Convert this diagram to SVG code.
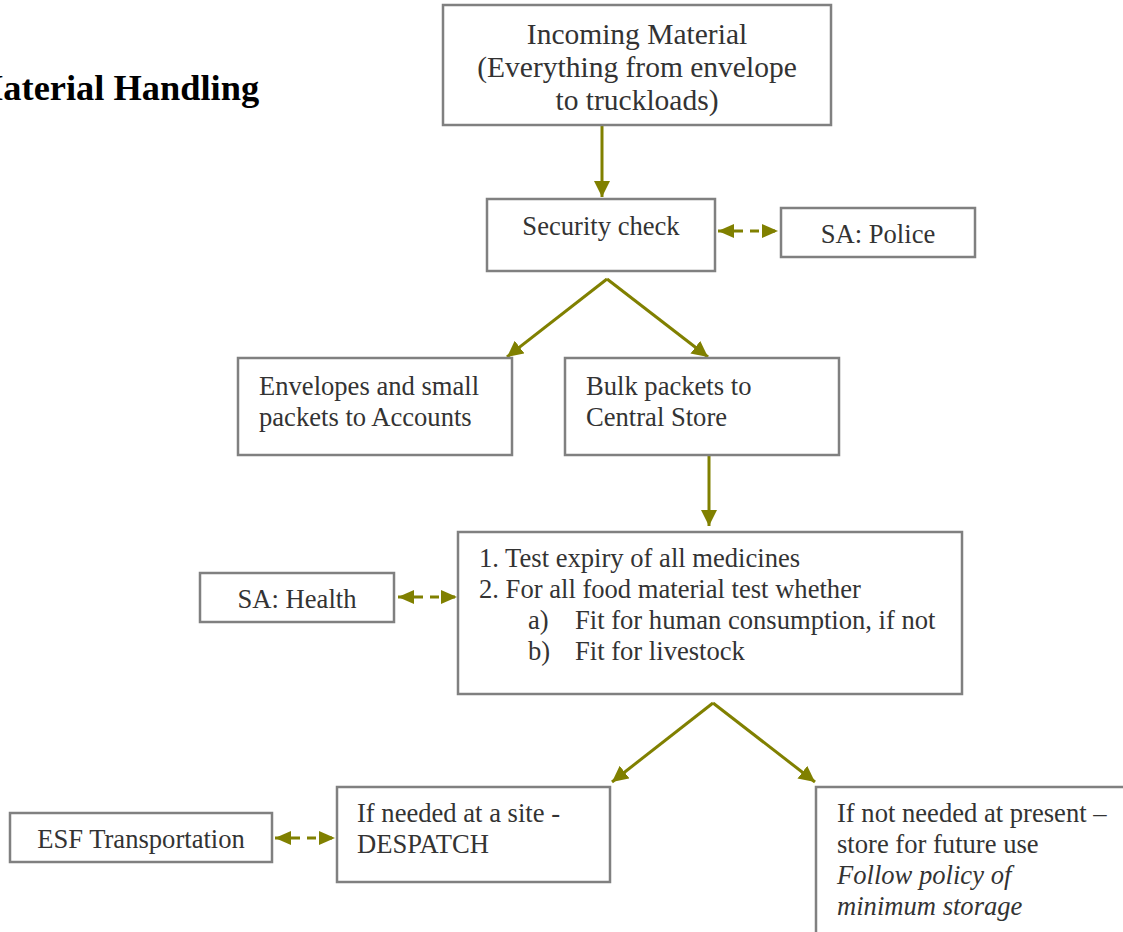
<svg xmlns="http://www.w3.org/2000/svg" width="1123" height="932" viewBox="0 0 1123 932">
  <style>
    .box { fill: #ffffff; stroke: #808080; stroke-width: 2.5; }
    .t { font-family: "Liberation Serif", "Times New Roman", serif; font-size: 26.6px; fill: #333333; }
    .big { font-size: 29.5px; }
    .c { text-anchor: middle; }
    .i { font-style: italic; }
    .title { font-family: "Liberation Serif", "Times New Roman", serif; font-size: 36.4px; font-weight: bold; fill: #000000; }
    .flow { stroke: #808000; stroke-width: 3; fill: none; }
    .dash { stroke: #808000; stroke-width: 3; fill: none; stroke-dasharray: 9 7; }
  </style>
  <defs>
    <marker id="arrow" markerUnits="userSpaceOnUse" markerWidth="18" markerHeight="18" refX="16" refY="8" orient="auto">
      <path d="M0,0 L16,8 L0,16 z" fill="#808000"/>
    </marker>
    <marker id="darrow" markerUnits="userSpaceOnUse" markerWidth="18" markerHeight="16" refX="16" refY="7" orient="auto-start-reverse">
      <path d="M0,0 L16,7 L0,14 z" fill="#808000"/>
    </marker>
  </defs>

  <rect width="1123" height="932" fill="#ffffff"/>

  <text class="title" x="-31" y="100">Material Handling</text>

  <g id="connectors">
    <line class="flow" x1="602" y1="125" x2="602" y2="197" marker-end="url(#arrow)"/>
    <line class="dash" x1="718" y1="231" x2="778" y2="231" marker-start="url(#darrow)" marker-end="url(#darrow)"/>
    <line class="flow" x1="607" y1="279" x2="507" y2="357" marker-end="url(#arrow)"/>
    <line class="flow" x1="607" y1="279" x2="708" y2="357" marker-end="url(#arrow)"/>
    <line class="flow" x1="709" y1="455" x2="709" y2="526" marker-end="url(#arrow)"/>
    <line class="dash" x1="398" y1="597" x2="457" y2="597" marker-start="url(#darrow)" marker-end="url(#darrow)"/>
    <line class="flow" x1="713" y1="703" x2="612" y2="782" marker-end="url(#arrow)"/>
    <line class="flow" x1="713" y1="703" x2="815" y2="782" marker-end="url(#arrow)"/>
    <line class="dash" x1="275" y1="838" x2="335" y2="838" marker-start="url(#darrow)" marker-end="url(#darrow)"/>
  </g>

  <g id="incoming">
    <rect class="box" x="443" y="5" width="388" height="120"/>
    <text class="t big c" x="637" y="44">Incoming Material</text>
    <text class="t big c" x="637" y="77">(Everything from envelope</text>
    <text class="t big c" x="637" y="110">to truckloads)</text>
  </g>

  <g id="security">
    <rect class="box" x="487" y="199" width="228" height="72"/>
    <text class="t c" x="601" y="235">Security check</text>
  </g>

  <g id="police">
    <rect class="box" x="781" y="208" width="194" height="49"/>
    <text class="t c" x="878" y="243">SA: Police</text>
  </g>

  <g id="accounts">
    <rect class="box" x="238" y="358" width="274" height="97"/>
    <text class="t" x="259" y="395">Envelopes and small</text>
    <text class="t" x="259" y="426">packets to Accounts</text>
  </g>

  <g id="central-store">
    <rect class="box" x="565" y="358" width="274" height="97"/>
    <text class="t" x="586" y="395">Bulk packets to</text>
    <text class="t" x="586" y="426">Central Store</text>
  </g>

  <g id="tests">
    <rect class="box" x="458" y="532" width="504" height="162"/>
    <text class="t" x="479" y="567">1. Test expiry of all medicines</text>
    <text class="t" x="479" y="598">2. For all food material test whether</text>
    <text class="t" x="528" y="629">a)</text>
    <text class="t" x="575" y="629">Fit for human consumption, if not</text>
    <text class="t" x="528" y="660">b)</text>
    <text class="t" x="575" y="660">Fit for livestock</text>
  </g>

  <g id="health">
    <rect class="box" x="200" y="573" width="194" height="49"/>
    <text class="t c" x="297" y="608">SA: Health</text>
  </g>

  <g id="despatch">
    <rect class="box" x="337" y="787" width="273" height="95"/>
    <text class="t" x="357" y="822">If needed at a site -</text>
    <text class="t" x="357" y="853">DESPATCH</text>
  </g>

  <g id="transport">
    <rect class="box" x="10" y="813" width="262" height="49"/>
    <text class="t c" x="141" y="848">ESF Transportation</text>
  </g>

  <g id="storage">
    <rect class="box" x="816" y="787" width="330" height="170"/>
    <text class="t" x="837" y="822">If not needed at present –</text>
    <text class="t" x="837" y="853">store for future use</text>
    <text class="t i" x="837" y="884">Follow policy of</text>
    <text class="t i" x="837" y="915">minimum storage</text>
  </g>
</svg>
